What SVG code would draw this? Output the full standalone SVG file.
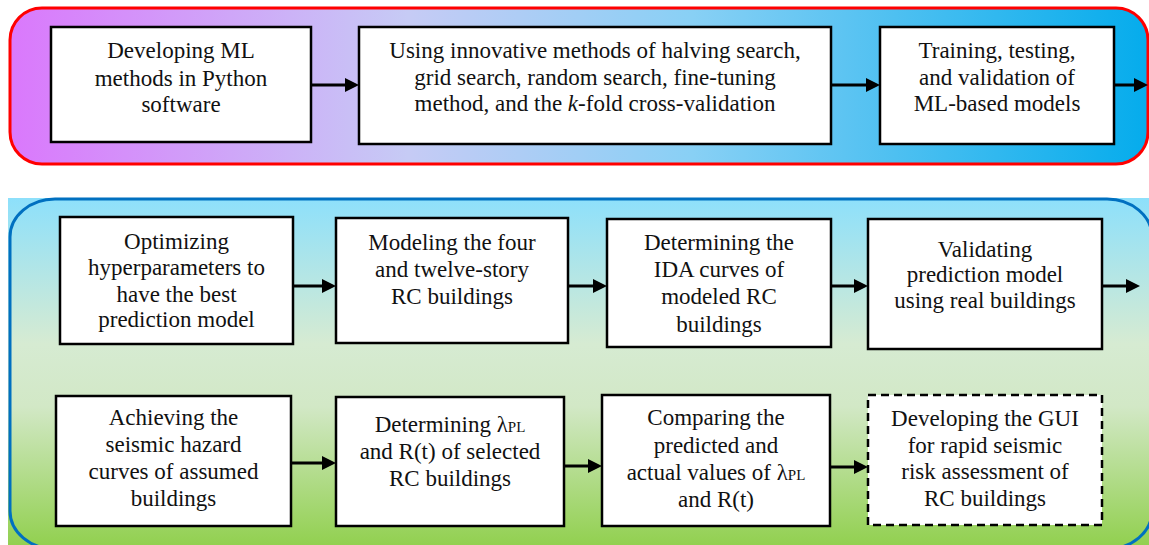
<svg xmlns="http://www.w3.org/2000/svg" width="1149" height="545" viewBox="0 0 1149 545">
<style>
.box{fill:#fff;stroke:#000;stroke-width:2.5}
.dash{fill:#fff;stroke:#000;stroke-width:2.5;stroke-dasharray:8,5}
.t{font-size:23px;fill:#111;text-anchor:middle}
.conn{stroke:#000;stroke-width:3;fill:none}
</style>
<defs>
<linearGradient id="gTop" x1="0" y1="0" x2="1" y2="0">
<stop offset="0" stop-color="#da78fc"/>
<stop offset="0.35" stop-color="#c6cbf5"/>
<stop offset="0.6" stop-color="#88d0f5"/>
<stop offset="1" stop-color="#05acec"/>
</linearGradient>
<linearGradient id="gBot" x1="0" y1="0" x2="0" y2="1">
<stop offset="0" stop-color="#8de0fb"/>
<stop offset="0.42" stop-color="#d6ebd2"/>
<stop offset="0.6" stop-color="#d2e8c6"/>
<stop offset="1" stop-color="#92d050"/>
</linearGradient>
<marker id="ah" markerWidth="14" markerHeight="14" refX="4" refY="7" orient="auto" markerUnits="userSpaceOnUse">
<path d="M0,0 L14,7 L0,14 z" fill="#000"/>
</marker>
</defs>

<g id="panel-top">
<rect x="10" y="8" width="1138" height="156" rx="32" ry="32" fill="url(#gTop)" stroke="#ff0000" stroke-width="3"/>
</g>
<g id="panel-bottom">
<rect x="8" y="198" width="1141" height="347" fill="url(#gBot)"/>
<rect x="10" y="199" width="1142" height="350" rx="45" ry="38" fill="none" stroke="#0070c0" stroke-width="3"/>
</g>

<g id="connectors">
<path class="conn" marker-end="url(#ah)" d="M311,85 H349"/>
<path class="conn" marker-end="url(#ah)" d="M831,85 H870"/>
<path class="conn" marker-end="url(#ah)" d="M1114,85 H1138"/>
<path class="conn" marker-end="url(#ah)" d="M293,286 H326"/>
<path class="conn" marker-end="url(#ah)" d="M568,286 H597"/>
<path class="conn" marker-end="url(#ah)" d="M831,286 H858"/>
<path class="conn" marker-end="url(#ah)" d="M1102,286 H1130"/>
<path class="conn" marker-end="url(#ah)" d="M291,463 H326"/>
<path class="conn" marker-end="url(#ah)" d="M564,466 H592"/>
<path class="conn" marker-end="url(#ah)" d="M830,467 H858"/>
</g>

<g font-family="Liberation Serif, DejaVu Serif, serif">
<g id="n1">
<rect class="box" x="51" y="27" width="260" height="115"/>
<text class="t" x="181" y="58">Developing ML</text>
<text class="t" x="181" y="86">methods in Python</text>
<text class="t" x="181" y="112">software</text>
</g>
<g id="n2">
<rect class="box" x="359" y="27" width="472" height="117"/>
<text class="t" x="595" y="58">Using innovative methods of halving search,</text>
<text class="t" x="595" y="85">grid search, random search, fine-tuning</text>
<text class="t" x="595" y="111">method, and the <tspan font-style="italic">k</tspan>-fold cross-validation</text>
</g>
<g id="n3">
<rect class="box" x="880" y="27" width="234" height="117"/>
<text class="t" x="997" y="58">Training, testing,</text>
<text class="t" x="997" y="85">and validation of</text>
<text class="t" x="997" y="111">ML-based models</text>
</g>

<g id="n4">
<rect class="box" x="60" y="217" width="233" height="127"/>
<text class="t" x="176.5" y="249">Optimizing</text>
<text class="t" x="176.5" y="275">hyperparameters to</text>
<text class="t" x="176.5" y="302">have the best</text>
<text class="t" x="176.5" y="327">prediction model</text>
</g>
<g id="n5">
<rect class="box" x="336" y="218" width="232" height="125"/>
<text class="t" x="452" y="250">Modeling the four</text>
<text class="t" x="452" y="277">and twelve-story</text>
<text class="t" x="452" y="304">RC buildings</text>
</g>
<g id="n6">
<rect class="box" x="607" y="219" width="224" height="128"/>
<text class="t" x="719" y="250">Determining the</text>
<text class="t" x="719" y="277">IDA curves of</text>
<text class="t" x="719" y="304">modeled RC</text>
<text class="t" x="719" y="332">buildings</text>
</g>
<g id="n7">
<rect class="box" x="868" y="219" width="234" height="130"/>
<text class="t" x="985" y="257">Validating</text>
<text class="t" x="985" y="282">prediction model</text>
<text class="t" x="985" y="308">using real buildings</text>
</g>

<g id="n8">
<rect class="box" x="56" y="396" width="235" height="130"/>
<text class="t" x="173.5" y="425">Achieving the</text>
<text class="t" x="173.5" y="452">seismic hazard</text>
<text class="t" x="173.5" y="479">curves of assumed</text>
<text class="t" x="173.5" y="506">buildings</text>
</g>
<g id="n9">
<rect class="box" x="336" y="397" width="228" height="129"/>
<text class="t" x="450" y="432">Determining λ<tspan font-size="15">PL</tspan></text>
<text class="t" x="450" y="459">and R(t) of selected</text>
<text class="t" x="450" y="486">RC buildings</text>
</g>
<g id="n10">
<rect class="box" x="602" y="395" width="228" height="131"/>
<text class="t" x="716" y="425">Comparing the</text>
<text class="t" x="716" y="453">predicted and</text>
<text class="t" x="716" y="480">actual values of λ<tspan font-size="15">PL</tspan></text>
<text class="t" x="716" y="507">and R(t)</text>
</g>
<g id="n11">
<rect class="dash" x="868" y="395" width="234" height="130"/>
<text class="t" x="985" y="426">Developing the GUI</text>
<text class="t" x="985" y="453">for rapid seismic</text>
<text class="t" x="985" y="479">risk assessment of</text>
<text class="t" x="985" y="506">RC buildings</text>
</g>
</g>
</svg>
